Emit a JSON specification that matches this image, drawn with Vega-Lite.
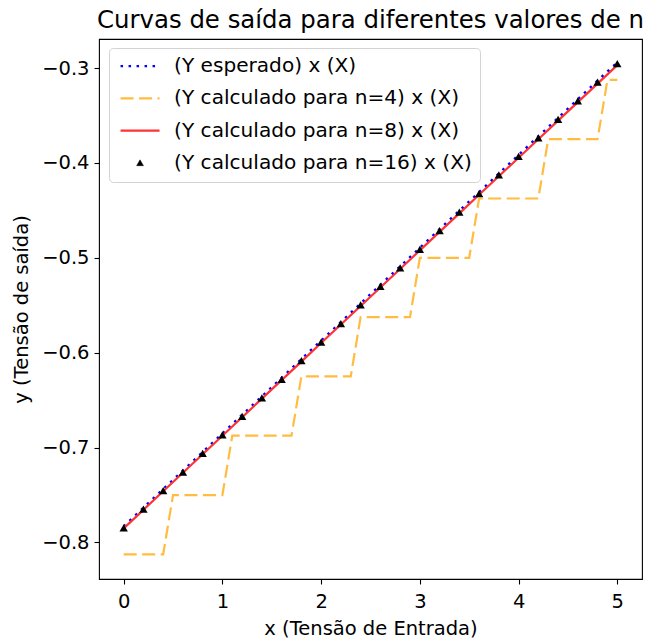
{
  "$schema": "https://vega.github.io/schema/vega-lite/v6.json",
  "width": 543,
  "height": 540,
  "autosize": {"type": "none"},
  "padding": {"left": 99, "top": 39, "right": 3, "bottom": 62},
  "title": {"text": "Curvas de saída para diferentes valores de n", "anchor": "middle", "fontSize": 24.4, "fontWeight": "normal", "font": "DejaVu Sans", "color": "#000", "offset": 6},
  "config": {
    "font": "DejaVu Sans",
    "view": {"stroke": "#000", "strokeWidth": 1.1},
    "axis": {"grid": false, "domain": false, "tickColor": "#000", "tickSize": 5, "tickWidth": 1.1, "labelFontSize": 19.5, "labelColor": "#000", "titleFontSize": 19.5, "titleFontWeight": "normal", "titleColor": "#000", "labelFont": "DejaVu Sans", "titleFont": "DejaVu Sans"}
  },
  "data": {"values": [
    {"serie": "(Y esperado) x (X)", "x": 0.0, "y": -0.7830},
    {"serie": "(Y esperado) x (X)", "x": 0.2, "y": -0.7634},
    {"serie": "(Y esperado) x (X)", "x": 0.4, "y": -0.7439},
    {"serie": "(Y esperado) x (X)", "x": 0.6, "y": -0.7243},
    {"serie": "(Y esperado) x (X)", "x": 0.8, "y": -0.7047},
    {"serie": "(Y esperado) x (X)", "x": 1.0, "y": -0.6852},
    {"serie": "(Y esperado) x (X)", "x": 1.2, "y": -0.6656},
    {"serie": "(Y esperado) x (X)", "x": 1.4, "y": -0.6460},
    {"serie": "(Y esperado) x (X)", "x": 1.6, "y": -0.6265},
    {"serie": "(Y esperado) x (X)", "x": 1.8, "y": -0.6069},
    {"serie": "(Y esperado) x (X)", "x": 2.0, "y": -0.5873},
    {"serie": "(Y esperado) x (X)", "x": 2.2, "y": -0.5678},
    {"serie": "(Y esperado) x (X)", "x": 2.4, "y": -0.5482},
    {"serie": "(Y esperado) x (X)", "x": 2.6, "y": -0.5286},
    {"serie": "(Y esperado) x (X)", "x": 2.8, "y": -0.5091},
    {"serie": "(Y esperado) x (X)", "x": 3.0, "y": -0.4895},
    {"serie": "(Y esperado) x (X)", "x": 3.2, "y": -0.4699},
    {"serie": "(Y esperado) x (X)", "x": 3.4, "y": -0.4504},
    {"serie": "(Y esperado) x (X)", "x": 3.6, "y": -0.4308},
    {"serie": "(Y esperado) x (X)", "x": 3.8, "y": -0.4112},
    {"serie": "(Y esperado) x (X)", "x": 4.0, "y": -0.3917},
    {"serie": "(Y esperado) x (X)", "x": 4.2, "y": -0.3721},
    {"serie": "(Y esperado) x (X)", "x": 4.4, "y": -0.3525},
    {"serie": "(Y esperado) x (X)", "x": 4.6, "y": -0.3330},
    {"serie": "(Y esperado) x (X)", "x": 4.8, "y": -0.3134},
    {"serie": "(Y esperado) x (X)", "x": 5.0, "y": -0.2940},
    {"serie": "(Y calculado para n=4) x (X)", "x": 0.0, "y": -0.8125},
    {"serie": "(Y calculado para n=4) x (X)", "x": 0.4, "y": -0.8125},
    {"serie": "(Y calculado para n=4) x (X)", "x": 0.5, "y": -0.75},
    {"serie": "(Y calculado para n=4) x (X)", "x": 1.0, "y": -0.75},
    {"serie": "(Y calculado para n=4) x (X)", "x": 1.1, "y": -0.6875},
    {"serie": "(Y calculado para n=4) x (X)", "x": 1.7, "y": -0.6875},
    {"serie": "(Y calculado para n=4) x (X)", "x": 1.8, "y": -0.625},
    {"serie": "(Y calculado para n=4) x (X)", "x": 2.3, "y": -0.625},
    {"serie": "(Y calculado para n=4) x (X)", "x": 2.4, "y": -0.5625},
    {"serie": "(Y calculado para n=4) x (X)", "x": 2.9, "y": -0.5625},
    {"serie": "(Y calculado para n=4) x (X)", "x": 3.0, "y": -0.5},
    {"serie": "(Y calculado para n=4) x (X)", "x": 3.5, "y": -0.5},
    {"serie": "(Y calculado para n=4) x (X)", "x": 3.6, "y": -0.4375},
    {"serie": "(Y calculado para n=4) x (X)", "x": 4.2, "y": -0.4375},
    {"serie": "(Y calculado para n=4) x (X)", "x": 4.3, "y": -0.375},
    {"serie": "(Y calculado para n=4) x (X)", "x": 4.8, "y": -0.375},
    {"serie": "(Y calculado para n=4) x (X)", "x": 4.9, "y": -0.3125},
    {"serie": "(Y calculado para n=4) x (X)", "x": 5.0, "y": -0.3125},
    {"serie": "(Y calculado para n=8) x (X)", "x": 0.0, "y": -0.78516},
    {"serie": "(Y calculado para n=8) x (X)", "x": 0.2, "y": -0.76563},
    {"serie": "(Y calculado para n=8) x (X)", "x": 0.4, "y": -0.74609},
    {"serie": "(Y calculado para n=8) x (X)", "x": 0.6, "y": -0.72656},
    {"serie": "(Y calculado para n=8) x (X)", "x": 0.8, "y": -0.70703},
    {"serie": "(Y calculado para n=8) x (X)", "x": 1.0, "y": -0.6875},
    {"serie": "(Y calculado para n=8) x (X)", "x": 1.2, "y": -0.66797},
    {"serie": "(Y calculado para n=8) x (X)", "x": 1.4, "y": -0.64844},
    {"serie": "(Y calculado para n=8) x (X)", "x": 1.6, "y": -0.62891},
    {"serie": "(Y calculado para n=8) x (X)", "x": 1.8, "y": -0.60938},
    {"serie": "(Y calculado para n=8) x (X)", "x": 2.0, "y": -0.58984},
    {"serie": "(Y calculado para n=8) x (X)", "x": 2.2, "y": -0.57031},
    {"serie": "(Y calculado para n=8) x (X)", "x": 2.4, "y": -0.55078},
    {"serie": "(Y calculado para n=8) x (X)", "x": 2.6, "y": -0.53125},
    {"serie": "(Y calculado para n=8) x (X)", "x": 2.8, "y": -0.51172},
    {"serie": "(Y calculado para n=8) x (X)", "x": 3.0, "y": -0.49219},
    {"serie": "(Y calculado para n=8) x (X)", "x": 3.2, "y": -0.47266},
    {"serie": "(Y calculado para n=8) x (X)", "x": 3.4, "y": -0.45313},
    {"serie": "(Y calculado para n=8) x (X)", "x": 3.6, "y": -0.43359},
    {"serie": "(Y calculado para n=8) x (X)", "x": 3.8, "y": -0.41406},
    {"serie": "(Y calculado para n=8) x (X)", "x": 4.0, "y": -0.39453},
    {"serie": "(Y calculado para n=8) x (X)", "x": 4.2, "y": -0.375},
    {"serie": "(Y calculado para n=8) x (X)", "x": 4.4, "y": -0.35547},
    {"serie": "(Y calculado para n=8) x (X)", "x": 4.6, "y": -0.33594},
    {"serie": "(Y calculado para n=8) x (X)", "x": 4.8, "y": -0.31641},
    {"serie": "(Y calculado para n=8) x (X)", "x": 5.0, "y": -0.29688},
    {"serie": "(Y calculado para n=16) x (X)", "x": 0.0, "y": -0.7845},
    {"serie": "(Y calculado para n=16) x (X)", "x": 0.2, "y": -0.7649},
    {"serie": "(Y calculado para n=16) x (X)", "x": 0.4, "y": -0.7454},
    {"serie": "(Y calculado para n=16) x (X)", "x": 0.6, "y": -0.7258},
    {"serie": "(Y calculado para n=16) x (X)", "x": 0.8, "y": -0.7062},
    {"serie": "(Y calculado para n=16) x (X)", "x": 1.0, "y": -0.6867},
    {"serie": "(Y calculado para n=16) x (X)", "x": 1.2, "y": -0.6671},
    {"serie": "(Y calculado para n=16) x (X)", "x": 1.4, "y": -0.6475},
    {"serie": "(Y calculado para n=16) x (X)", "x": 1.6, "y": -0.6280},
    {"serie": "(Y calculado para n=16) x (X)", "x": 1.8, "y": -0.6084},
    {"serie": "(Y calculado para n=16) x (X)", "x": 2.0, "y": -0.5888},
    {"serie": "(Y calculado para n=16) x (X)", "x": 2.2, "y": -0.5693},
    {"serie": "(Y calculado para n=16) x (X)", "x": 2.4, "y": -0.5497},
    {"serie": "(Y calculado para n=16) x (X)", "x": 2.6, "y": -0.5301},
    {"serie": "(Y calculado para n=16) x (X)", "x": 2.8, "y": -0.5106},
    {"serie": "(Y calculado para n=16) x (X)", "x": 3.0, "y": -0.4910},
    {"serie": "(Y calculado para n=16) x (X)", "x": 3.2, "y": -0.4714},
    {"serie": "(Y calculado para n=16) x (X)", "x": 3.4, "y": -0.4519},
    {"serie": "(Y calculado para n=16) x (X)", "x": 3.6, "y": -0.4323},
    {"serie": "(Y calculado para n=16) x (X)", "x": 3.8, "y": -0.4127},
    {"serie": "(Y calculado para n=16) x (X)", "x": 4.0, "y": -0.3932},
    {"serie": "(Y calculado para n=16) x (X)", "x": 4.2, "y": -0.3736},
    {"serie": "(Y calculado para n=16) x (X)", "x": 4.4, "y": -0.3540},
    {"serie": "(Y calculado para n=16) x (X)", "x": 4.6, "y": -0.3345},
    {"serie": "(Y calculado para n=16) x (X)", "x": 4.8, "y": -0.3149},
    {"serie": "(Y calculado para n=16) x (X)", "x": 5.0, "y": -0.2953}
  ]},
  "encoding": {
    "x": {"field": "x", "type": "quantitative", "scale": {"domain": [-0.25, 5.25], "nice": false, "zero": false},
          "axis": {"values": [0, 1, 2, 3, 4, 5], "format": "d", "title": "x (Tensão de Entrada)", "labelPadding": 8, "titlePadding": 9, "labelFlush": false}},
    "y": {"field": "y", "type": "quantitative", "scale": {"domain": [-0.8385, -0.2694], "nice": false, "zero": false},
          "axis": {"values": [-0.8, -0.7, -0.6, -0.5, -0.4, -0.3], "format": ".1f", "title": "y (Tensão de saída)", "labelPadding": 5, "titlePadding": 10, "labelFlush": false}},
    "color": {"field": "serie", "type": "nominal",
      "scale": {"domain": ["(Y esperado) x (X)", "(Y calculado para n=4) x (X)", "(Y calculado para n=8) x (X)", "(Y calculado para n=16) x (X)"],
                "range": ["#0000ff", "#ffbc40", "#ff3333", "#000000"]},
      "legend": {"title": null, "orient": "none", "legendX": 10, "legendY": 9, "padding": 8,
        "fillColor": "rgba(255,255,255,0.85)", "strokeColor": "#d3d3d3", "cornerRadius": 4,
        "labelFontSize": 20.1, "labelColor": "#000", "labelFont": "DejaVu Sans", "labelOffset": 24, "labelLimit": 500,
        "symbolSize": 1521, "symbolStrokeWidth": 2.2, "symbolOffset": 13, "rowPadding": 11.3,
        "encode": {"symbols": {"update": {
          "shape": {"signal": "datum.value === '(Y calculado para n=16) x (X)' ? 'M0,-0.16L0.175,0.14L-0.175,0.14Z' : 'stroke'"},
          "size": {"value": 1521},
          "fill": {"signal": "datum.value === '(Y calculado para n=16) x (X)' ? '#000000' : 'transparent'"},
          "stroke": {"signal": "scale('color', datum.value)"},
          "strokeWidth": {"signal": "datum.value === '(Y calculado para n=16) x (X)' ? 0.5 : 2.2"},
          "strokeDash": {"signal": "datum.value === '(Y esperado) x (X)' ? [2.5, 5.5] : (datum.value === '(Y calculado para n=4) x (X)' ? [13, 5.5] : [1, 0])"},
          "opacity": {"value": 1}
        }}}}
    }
  },
  "layer": [
    {"transform": [{"filter": "datum.serie === '(Y esperado) x (X)'"}],
     "mark": {"type": "line", "strokeWidth": 2.5, "strokeDash": [2.5, 5.5]}},
    {"transform": [{"filter": "datum.serie === '(Y calculado para n=4) x (X)'"}],
     "mark": {"type": "line", "strokeWidth": 2.2, "strokeDash": [13, 5.5]}},
    {"transform": [{"filter": "datum.serie === '(Y calculado para n=8) x (X)'"}],
     "mark": {"type": "line", "strokeWidth": 2.2}},
    {"transform": [{"filter": "datum.serie === '(Y calculado para n=16) x (X)'"}],
     "mark": {"type": "point", "shape": "triangle-up", "filled": true, "size": 70, "opacity": 1}}
  ]
}
